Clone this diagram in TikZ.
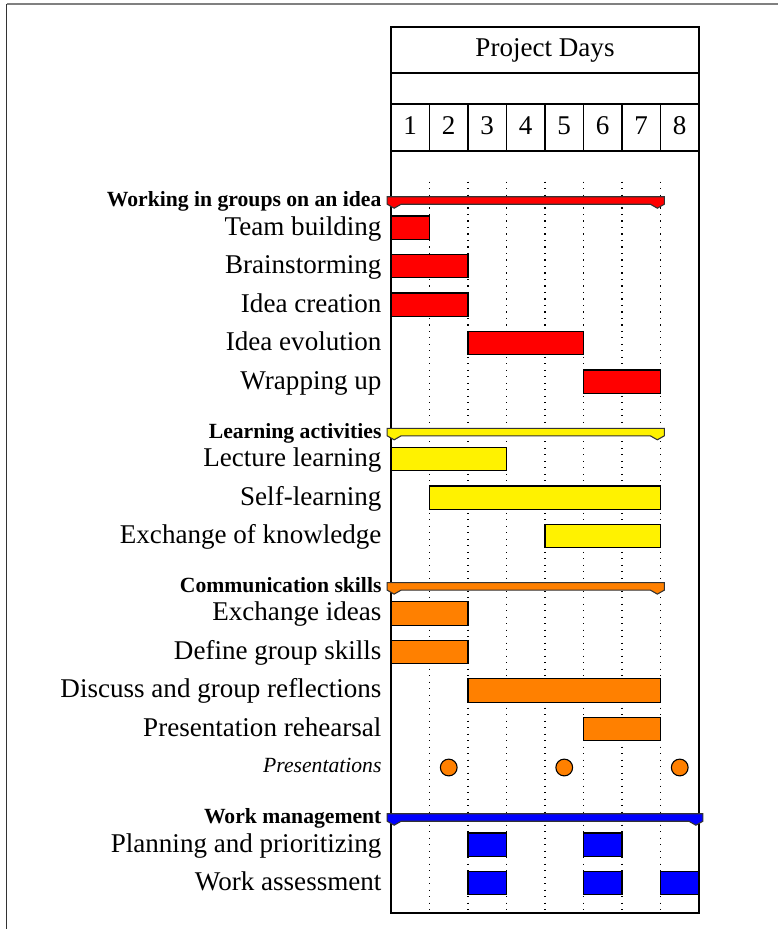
\documentclass[tikz,border=0pt]{standalone}
\usepackage{fontspec}
\setmainfont{Liberation Serif}
\usepackage{tikz}
\usetikzlibrary{positioning}

\begin{document}
\begin{tikzpicture}[
    x=0.012987cm, y=-0.012987cm,
    taskbar/.style={draw=black, line width=0.4pt},
    groupbar/.style={draw=black!80, line width=0.4pt},
    tasklbl/.style={anchor=base east, inner sep=0pt, font=\fontsize{10}{12}\selectfont},
    grouplbl/.style={anchor=base east, inner sep=0pt, font=\fontsize{8}{10}\selectfont\bfseries},
    milelbl/.style={anchor=base east, inner sep=0pt, font=\fontsize{8}{10}\selectfont\itshape},
    milestone/.style={circle, draw=black, fill=orange, inner sep=0pt, minimum size=6.2pt, line width=0.4pt},
    hdr/.style={anchor=base, inner sep=0pt, font=\fontsize{10}{12}\selectfont},
    vgrid/.style={dotted, line width=0.4pt},
    pageline/.style={line width=0.5pt}
]
\useasboundingbox (0,0) rectangle (778,929);

% --- Page frame ---
\draw[pageline, black!50] (6.5,4) -- (778,4);
\draw[pageline, black!80] (6.5,4) -- (6.5,929);

% --- Chart frame and header ---
\draw (391,27) rectangle (699,913);
\foreach \hy in {73,104,151}
  \draw (391,\hy) -- (699,\hy);
\node[hdr] (title) at (545,56.7) {Project Days};
\foreach \d in {1,...,8}
  \node[hdr] (day\d) at ({391+38.5*(\d-0.5)},134) {\d};
\foreach \d in {1,...,7}
  \draw ({391+38.5*\d},104) -- ({391+38.5*\d},151);

% Dotted day grid
\foreach \d in {1,...,7}
  \draw[vgrid] ({391+38.5*\d},181.5) -- ({391+38.5*\d},913);

% --- Groups ---
\foreach \gname/\glabel/\gtop/\gend/\gcol in {
    grpIdea/Working in groups on an idea/196.7/7/red,
    grpLearn/Learning activities/428.3/7/yellow,
    grpComm/Communication skills/582.6/7/orange,
    grpWork/Work management/813.7/8/blue}
{
  \pgfmathsetmacro\gR{391+38.5*\gend+3.85}
  \filldraw[groupbar, fill=\gcol] (387.15,\gtop) -- (\gR,\gtop) -- (\gR,\gtop+7.5)
    -- (\gR-7,\gtop+11.5) -- (\gR-14,\gtop+7.5) -- (401.15,\gtop+7.5)
    -- (394.15,\gtop+11.5) -- (387.15,\gtop+7.5) -- cycle;
  \node[grouplbl] (\gname) at (382,\gtop+10) {\glabel};
}

% --- Tasks ---
\foreach \tname/\tlabel/\ttop/\tcol/\tspans in {
    taskTeam/Team building/216/red/{1/1},
    taskBrain/Brainstorming/254.5/red/{1/2},
    taskCreate/Idea creation/293/red/{1/2},
    taskEvol/Idea evolution/331.5/red/{3/5},
    taskWrap/Wrapping up/370/red/{6/7},
    taskLecture/Lecture learning/447.5/yellow/{1/3},
    taskSelf/Self-learning/486/yellow/{2/7},
    taskKnow/Exchange of knowledge/524.5/yellow/{5/7},
    taskIdeas/Exchange ideas/601.8/orange/{1/2},
    taskSkills/Define group skills/640.3/orange/{1/2},
    taskDiscuss/Discuss and group reflections/678.8/orange/{3/7},
    taskRehearse/Presentation rehearsal/717.3/orange/{6/7},
    taskPlan/Planning and prioritizing/833/blue/{3/3,6/6},
    taskAssess/Work assessment/871.5/blue/{3/3,6/6,8/8}}
{
  \node[tasklbl] (\tname) at (382,\ttop+19) {\tlabel};
  \foreach \a/\b in \tspans
    \filldraw[taskbar, fill=\tcol] ({391+38.5*(\a-1)},\ttop) rectangle ({391+38.5*\b},\ttop+23.3);
}

% --- Milestones ---
\node[milelbl] (presLbl) at (382,772.3) {Presentations};
\foreach \d in {2,5,8}
  \node[milestone] (pres\d) at ({391+38.5*(\d-0.5)},767.5) {};

\end{tikzpicture}
\end{document}
